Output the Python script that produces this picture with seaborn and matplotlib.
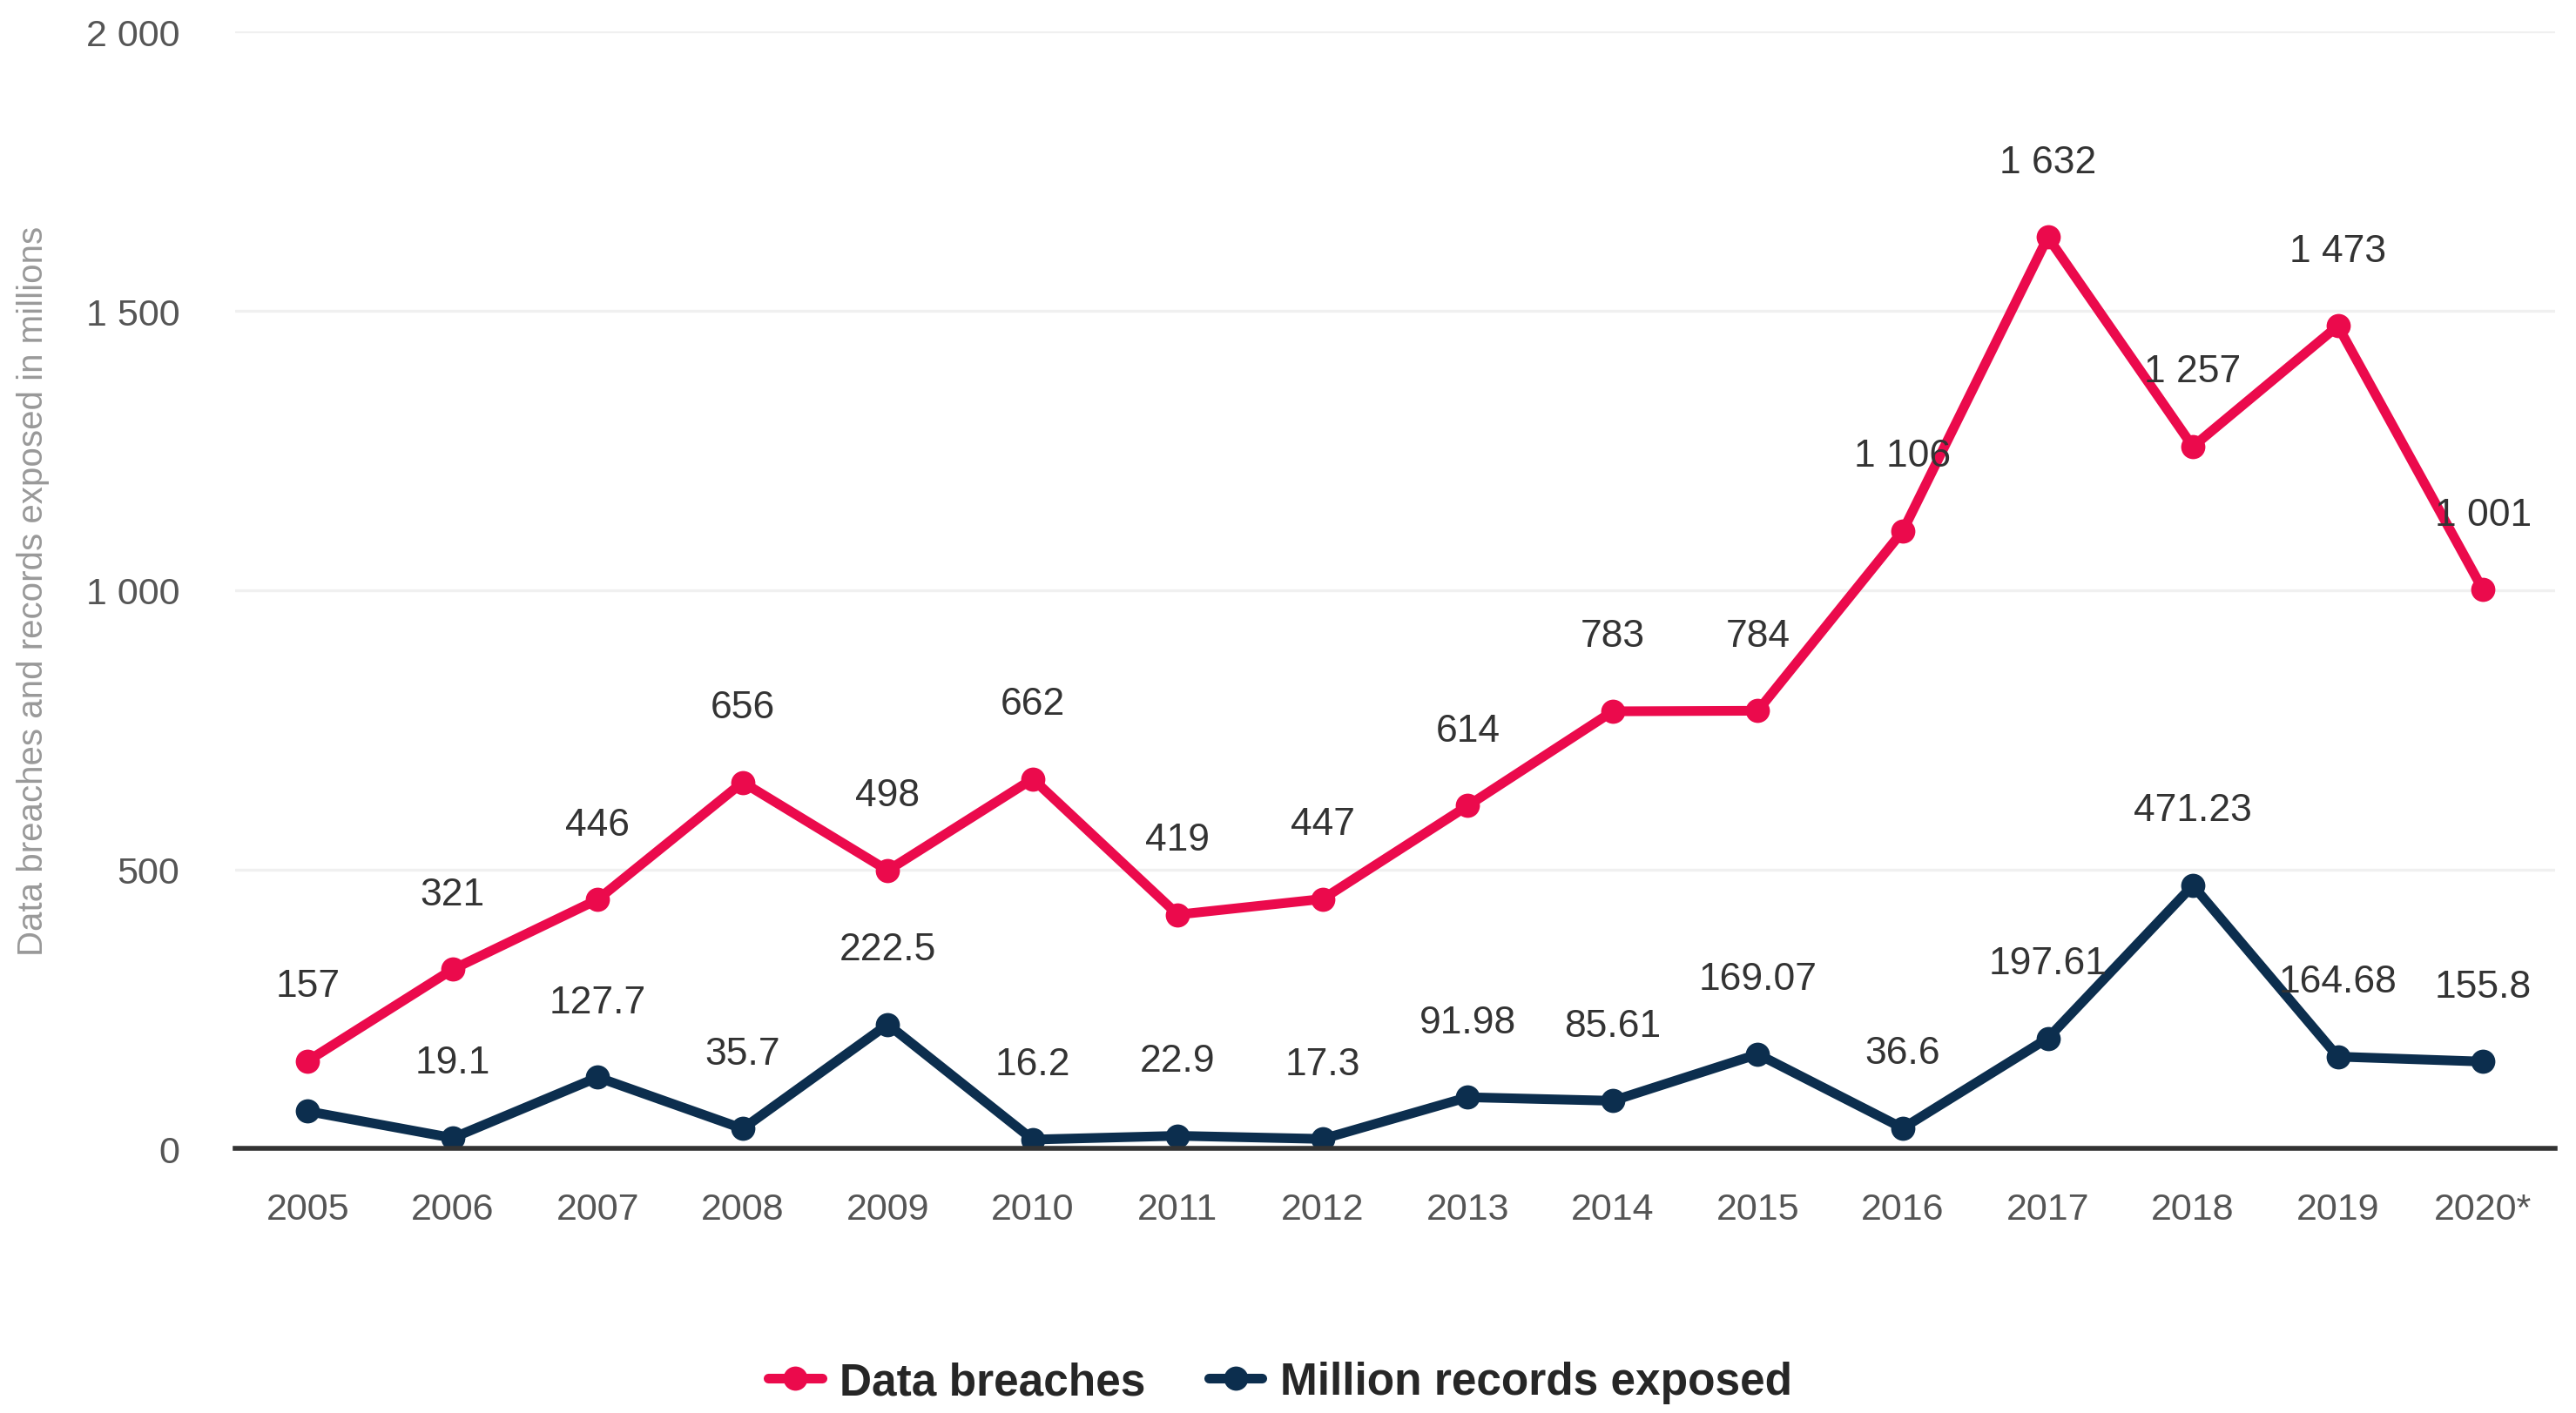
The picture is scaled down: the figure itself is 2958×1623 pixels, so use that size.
import matplotlib
matplotlib.use("Agg")
import matplotlib.pyplot as plt
import seaborn as sns
import pandas as pd
import numpy as np

years = ["2005", "2006", "2007", "2008", "2009", "2010", "2011", "2012",
         "2013", "2014", "2015", "2016", "2017", "2018", "2019", "2020*"]
data_breaches = [157, 321, 446, 656, 498, 662, 419, 447, 614, 783, 784,
                 1106, 1632, 1257, 1473, 1001]
records_exposed = [66.9, 19.1, 127.7, 35.7, 222.5, 16.2, 22.9, 17.3, 91.98,
                   85.61, 169.07, 36.6, 197.61, 471.23, 164.68, 155.8]
records_labelled = [False] + [True] * 15
series_names = ["Data breaches", "Million records exposed"]
colors = ["#EB0A4C", "#0C2E4E"]

sns.set_theme(style="white")
plt.rcParams["font.family"] = ["Liberation Sans", "DejaVu Sans"]

df = pd.DataFrame({
    "pos": list(range(len(years))) * 2,
    "value": data_breaches + records_exposed,
    "series": [series_names[0]] * len(years) + [series_names[1]] * len(years),
})

fig = plt.figure(figsize=(14.79, 8.12), dpi=200)
ax = fig.add_axes([0.0913, 0.187, 0.9007, 0.79])

sns.lineplot(data=df, x="pos", y="value", hue="series", palette=colors,
             marker="o", markersize=10, markeredgewidth=0, linewidth=4,
             ax=ax, legend=True)

ax.set_xlim(-0.5, len(years) - 0.5)
ax.set_ylim(0, 2000)
ax.set_yticks([0, 500, 1000, 1500, 2000])
ax.set_yticklabels(["0", "500", "1 000", "1 500", "2 000"])
ax.set_xticks(range(len(years)))
ax.set_xticklabels(years)
ax.tick_params(axis="both", labelsize=15.5, colors="#555555", length=0)
ax.tick_params(axis="x", pad=18)
ax.tick_params(axis="y", pad=23)
ax.grid(axis="y", color="#f0f0f0", linewidth=1.2)
ax.set_axisbelow(True)
for s in ["top", "right", "left"]:
    ax.spines[s].set_visible(False)
ax.spines["bottom"].set_color("#333333")
ax.spines["bottom"].set_linewidth(2)
ax.set_xlabel("")
ax.set_ylabel("Data breaches and records exposed in millions", fontsize=14.5,
              color="#999999")
ax.yaxis.set_label_coords(-0.080, 0.5)


def fmt(v):
    if float(v).is_integer():
        return f"{int(v):,}".replace(",", " ")
    return f"{v:g}"


for i, v in enumerate(data_breaches):
    ax.annotate(fmt(v), (i, v), xytext=(0, 31), textcoords="offset points",
                ha="center", va="center", fontsize=16, color="#333333")
for i, (v, show) in enumerate(zip(records_exposed, records_labelled)):
    if show:
        ax.annotate(fmt(v), (i, v), xytext=(0, 31), textcoords="offset points",
                    ha="center", va="center", fontsize=16, color="#333333")

handles, labels = ax.get_legend_handles_labels()
ax.legend(handles, labels, loc="lower center", bbox_to_anchor=(0.497, -0.022),
          bbox_transform=fig.transFigure, ncol=2, frameon=False,
          prop={"weight": "bold", "size": 18.5}, handlelength=1.2,
          handletextpad=0.4, columnspacing=1.4)

fig.savefig("out.png", dpi=200, facecolor="white")
